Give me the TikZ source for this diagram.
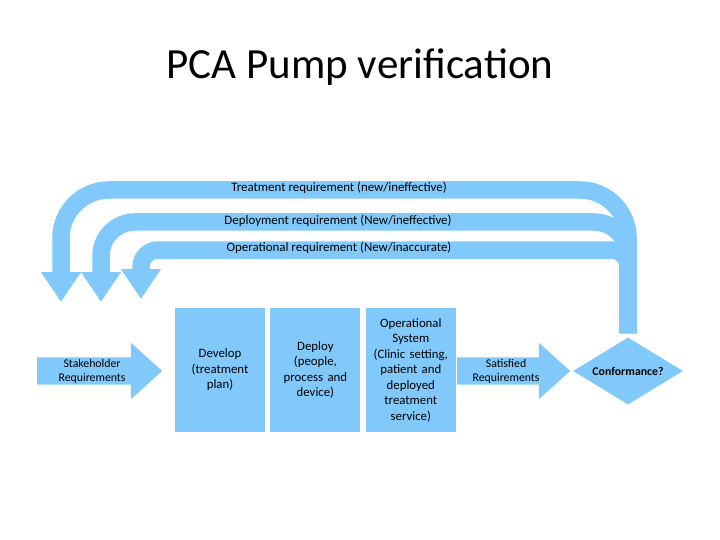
\documentclass[tikz,border=0pt]{standalone}
\usepackage{fontspec}
\setsansfont{Carlito}
\usetikzlibrary{arrows.meta,positioning,shapes.geometric,shapes.arrows}
\definecolor{pcaBlue}{RGB}{128,201,250}

\begin{document}
\begin{tikzpicture}[x=1pt,y=-1pt,font=\sffamily,
  node distance=5pt,
  stage/.style={fill=pcaBlue,minimum width=90pt,minimum height=124pt,inner sep=0pt,
                text width=88pt,align=center,font=\sffamily\fontsize{12.8}{15.5}\selectfont},
  flow/.style={single arrow,fill=pcaBlue,single arrow head extend=14.5pt,
               single arrow tip angle=84,inner ysep=1.5pt,align=center,
               font=\sffamily\fontsize{11.8}{14}\selectfont},
  band/.style={draw=pcaBlue,line width=17.5pt,-{Triangle[length=30pt,width=38pt]}},
  lbl/.style={font=\sffamily\fontsize{12.9}{14}\selectfont,inner sep=0pt}]
\useasboundingbox (0,0) rectangle (720,540);

\node[font=\sffamily\fontsize{43}{46}\selectfont] (title) at (360,67) {PCA Pump verification};

% process stages
\node[stage] (develop) at (220,370) {Develop\\(treatment\\plan)};
\node[stage,right=5pt of develop] (deploy) {Deploy\\(people,\\process and\\device)};
\node[stage,right=5pt of deploy] (opsys)
  {Operational\\System\\(Clinic setting,\\patient and\\deployed\\treatment\\service)};

\node[flow,anchor=tail,minimum height=125pt] (stake) at (37,371) {Stakeholder\\Requirements};
\node[flow,anchor=tail,minimum height=113pt] (satis) at (457,371) {Satisfied\\Requirements};
\node[diamond,fill=pcaBlue,minimum width=110pt,minimum height=67pt,inner sep=0pt,
      aspect=1.65,font=\sffamily\bfseries\fontsize{11.8}{13}\selectfont]
  (conf) at (628,371) {Conformance?};

% feedback loops
\coordinate (treatend) at (61,302);
\coordinate (deployend) at (101,302);
\coordinate (opend) at (141,299);
\coordinate (treatrow) at (61,190);
\coordinate (deployrow) at (101,222);
\coordinate (oprow) at (141,250);
\draw[band,rounded corners=48pt] ([yshift=4pt]conf.north) |- (treatrow) -- (treatend);
\draw[band,rounded corners=34pt] ([yshift=4pt]conf.north) |- (deployrow) -- (deployend);
\draw[band,rounded corners=17pt] ([yshift=4pt]conf.north) |- (oprow) -- (opend);

\node[lbl] (treatlbl) at (339,188) {Treatment requirement (new/ineffective)};
\node[lbl] (deploylbl) at (338,221) {Deployment requirement (New/ineffective)};
\node[lbl] (oplbl) at (339,248) {Operational requirement (New/inaccurate)};
\end{tikzpicture}
\end{document}
